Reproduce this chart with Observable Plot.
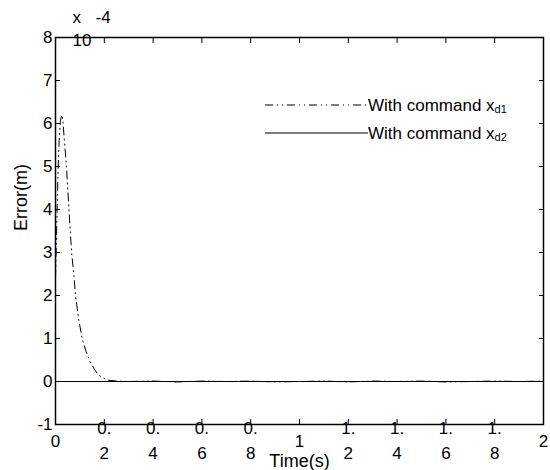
<!DOCTYPE html>
<html>
<head>
<meta charset="utf-8">
<script src="https://cdn.jsdelivr.net/npm/d3@7"></script>
<script src="https://cdn.jsdelivr.net/npm/@observablehq/plot@0.6"></script>
<style>
  html, body { margin: 0; padding: 0; background: #fff; }
  #wrap { position: relative; width: 550px; height: 470px; }
  #wrap svg { display: block; }
  #legend { position: absolute; left: 0; top: 0; pointer-events: none; }
</style>
</head>
<body>
<div id="wrap"></div>
<script>
// ---- data (error in units of 1e-4 m) ----
const tD1 = [0, 0.005, 0.01, 0.015, 0.02, 0.025, 0.03, 0.035, 0.045, 0.055, 0.066, 0.075, 0.082, 0.095, 0.109, 0.125, 0.143, 0.16, 0.176, 0.2, 0.217, 0.25, 0.3, 0.4, 0.5, 0.6, 0.7, 0.8, 0.9, 1.0, 1.1, 1.2, 1.3, 1.4, 1.5, 1.6, 1.7, 1.8, 1.9, 2.0];
const eD1 = [2.4, 3.6, 4.8, 5.6, 6.05, 6.2, 6.1, 5.7, 5.0, 4.0, 3.0, 2.5, 2.0, 1.45, 1.0, 0.7, 0.45, 0.28, 0.15, 0.07, 0.03, 0.01, 0.0, 0.01, -0.01, 0.01, 0.0, 0.01, -0.01, 0.0, 0.01, -0.01, 0.01, 0.0, 0.01, -0.01, 0.0, 0.01, 0.0, 0.01];
const tD2 = [0, 0.25, 0.5, 0.75, 1.0, 1.25, 1.5, 1.75, 2.0];
const eD2 = [0, 0, 0, 0, 0, 0, 0, 0, 0];

const xTicks = [0, 0.2, 0.4, 0.6, 0.8, 1.0, 1.2, 1.4, 1.6, 1.8, 2.0];
const xTickLabels = ["0", "0.\n2", "0.\n4", "0.\n6", "0.\n8", "1", "1.\n2", "1.\n4", "1.\n6", "1.\n8", "2"];
const yTicks = [-1, 0, 1, 2, 3, 4, 5, 6, 7, 8];
const yTickLabels = ["-1", "0", "1", "2", "3", "4", "5", "6", "7", "8"];

const xLabel = ["Time(s)"];
const yLabel = ["Error(m)"];
const expMult = ["x"];
const expBase = ["10"];
const expPow = ["-4"];
const seriesNames = ["With command x", "With command x"];
const seriesSubs = ["d1", "d2"];

const d1 = tD1.map((t, i) => ({t, e: eD1[i]}));
const d2 = tD2.map((t, i) => ({t, e: eD2[i]}));
const xt = xTicks.map((v, i) => ({v, s: xTickLabels[i]}));

const FONT = "Liberation Sans, Arial, Helvetica, sans-serif";

const chart = Plot.plot({
  width: 550,
  height: 470,
  marginLeft: 55,
  marginRight: 7,
  marginTop: 37,
  marginBottom: 46,
  style: {fontFamily: FONT, fontSize: "17px", background: "#fff", color: "#000"},
  x: {domain: [0, 2]},
  y: {domain: [-1, 8]},
  marks: [
    Plot.line(d2, {x: "t", y: "e", stroke: "#000", strokeWidth: 1}),
    Plot.line(d1, {x: "t", y: "e", stroke: "#000", strokeWidth: 1, strokeDasharray: "8,4,1,4,1,4"}),
    // inward ticks on all four sides
    Plot.axisX({anchor: "bottom", ticks: xTicks, tickSize: -5, tickFormat: () => "", label: null, strokeWidth: 1}),
    Plot.axisX({anchor: "top", ticks: xTicks, tickSize: -5, tickFormat: () => "", label: null, strokeWidth: 1}),
    Plot.axisY({anchor: "left", ticks: yTicks, tickSize: -5, tickFormat: () => "", label: null, strokeWidth: 1}),
    Plot.axisY({anchor: "right", ticks: yTicks, tickSize: -5, tickFormat: () => "", label: null, strokeWidth: 1}),
    // y tick labels
    Plot.axisY({anchor: "left", ticks: yTicks, tickSize: 0, tickPadding: 3, tickFormat: (d) => yTickLabels[yTicks.indexOf(d)], label: null, fontSize: 17}),
    // x tick labels (wrapped as in the original)
    Plot.text(xt, {x: "v", text: "s", frameAnchor: "bottom", dy: 14, lineAnchor: "middle", lineHeight: 1.47, fontSize: 17, fill: "#000"}),
    Plot.frame({stroke: "#000", strokeWidth: 1.5}),
    // axis titles
    Plot.text(xLabel, {frameAnchor: "bottom", dy: 37, lineAnchor: "middle", fontSize: 18, fill: "#000"}),
    Plot.text(yLabel, {frameAnchor: "left", dx: -34, rotate: -90, fontSize: 18, fill: "#000"}),
    // exponent label
    Plot.text(expMult, {frameAnchor: "top-left", dx: 17, dy: -20, lineAnchor: "middle", fontSize: 17, fill: "#000"}),
    Plot.text(expPow, {frameAnchor: "top-left", dx: 40, dy: -20, lineAnchor: "middle", fontSize: 17, fill: "#000"}),
    Plot.text(expBase, {frameAnchor: "top-left", dx: 17, dy: 3, lineAnchor: "middle", fontSize: 17, fill: "#000"})
  ]
});

const wrap = document.getElementById("wrap");
wrap.appendChild(chart);

// legend overlay
const leg = d3.select(wrap).append("svg")
  .attr("id", "legend")
  .attr("width", 550).attr("height", 470)
  .attr("font-family", FONT);
const legY = [105, 133];
const legDash = ["8,4,1,4,1,4", null];
seriesNames.forEach((name, i) => {
  leg.append("line")
    .attr("x1", 265).attr("x2", 368)
    .attr("y1", legY[i]).attr("y2", legY[i])
    .attr("stroke", "#000").attr("stroke-width", 1)
    .attr("stroke-dasharray", legDash[i]);
  const t = leg.append("text")
    .attr("x", 368).attr("y", legY[i])
    .attr("dy", "0.35em")
    .attr("font-size", 17).attr("fill", "#000");
  t.append("tspan").text(name);
  t.append("tspan").attr("font-size", 11).attr("dy", 2).text(seriesSubs[i]);
});
</script>
</body>
</html>
